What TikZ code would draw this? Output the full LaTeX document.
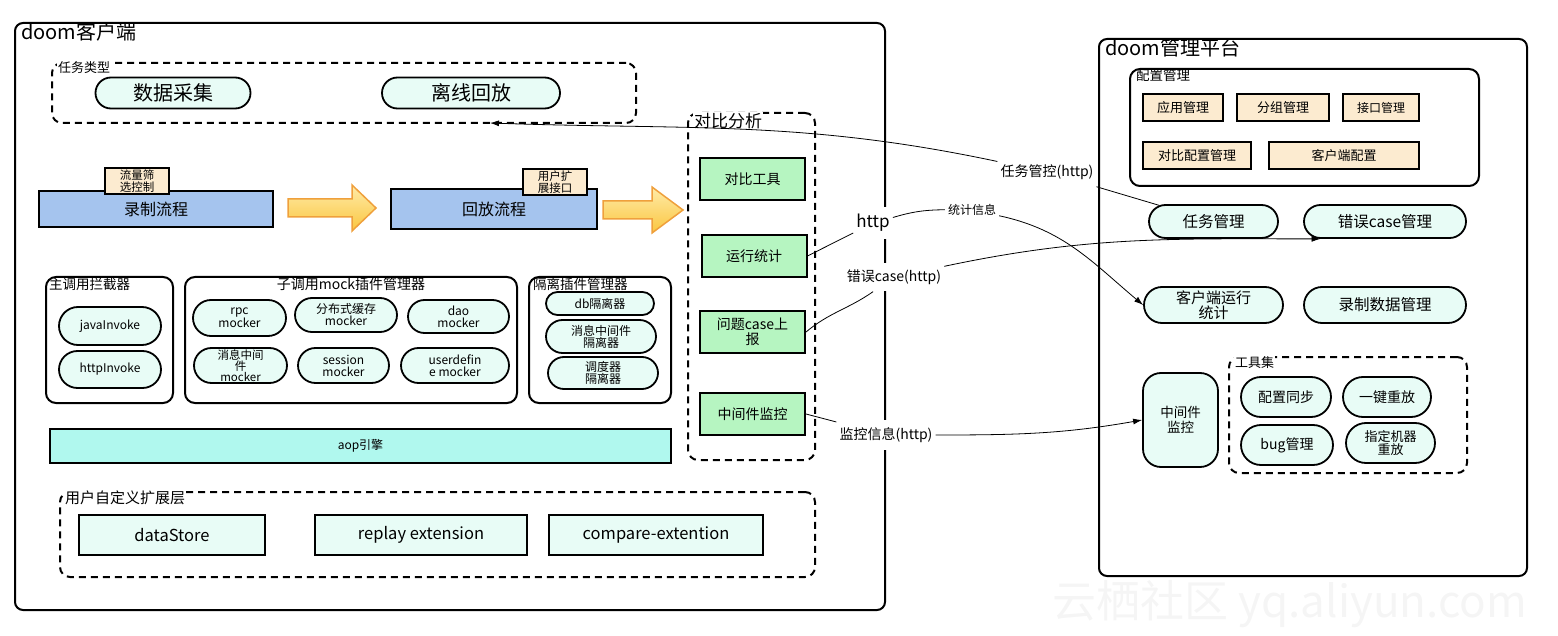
\documentclass[tikz,border=0pt]{standalone}
\usepackage{fontspec}
\setmainfont{Noto Sans CJK SC}
\usetikzlibrary{arrows.meta,shapes.misc}
\definecolor{mint}{HTML}{E8FCF6}
\definecolor{flowblue}{HTML}{A5C4EE}
\definecolor{peach}{HTML}{FCEBD0}
\definecolor{lgreen}{HTML}{B6F5C1}
\definecolor{aopcyan}{HTML}{B0F8EE}
\definecolor{arrtop}{HTML}{FFEBA8}
\definecolor{arrbot}{HTML}{FAC640}
\definecolor{arrorange}{HTML}{EFA03C}
\newcommand{\fs}[2]{\fontsize{#1}{#2}\selectfont}
\tikzset{
  panel/.style={draw, line width=2pt, rounded corners=8},
  dashbox/.style={draw, line width=2pt, dash pattern=on 7pt off 5pt, rounded corners=10},
  pill/.style={draw, line width=1.8pt, fill=mint, rounded rectangle, align=center, inner sep=1pt},
  flowbox/.style={draw, line width=2pt, fill=flowblue, font=\fs{16}{17}},
  tagbox/.style={draw, line width=1.8pt, fill=peach, align=center, inner sep=0pt,
    minimum width=64, minimum height=26, font=\fs{11.5}{11.5}},
  cmpbox/.style={draw, line width=2pt, fill=lgreen, minimum width=105, minimum height=42,
    align=center, font=\fs{14}{15}},
  extbox/.style={draw, line width=2pt, fill=mint, minimum height=40, font=\fs{16.5}{17}},
  cfgbox/.style={draw, line width=2pt, fill=peach, minimum height=27, font=\fs{13}{14}},
  boxtitle/.style={anchor=north west, inner sep=1pt},
  lbl/.style={fill=white, inner xsep=3pt, inner ysep=7pt, font=\fs{14}{15}},
  conn/.style={line width=0.8pt},
  arr/.style={conn, -{Latex[length=9pt,width=6pt]}},
  blockarrow/.style={draw=arrorange, line width=1.5pt, top color=arrtop, bottom color=arrbot},
}
\begin{document}
\begin{tikzpicture}[x=1pt,y=-1pt]
\useasboundingbox (0,0) rectangle (1558,636);

\node[text=gray!8, font=\fs{44}{46}] (wm) at (1290,604) {云栖社区 yq.aliyun.com};

\node[panel, minimum width=870, minimum height=587] (client) at (450,316.5) {};
\node[boxtitle, font=\fs{20}{22}] (clientt) at (20,21) {doom客户端};

\node[dashbox, minimum width=584, minimum height=60] (tasktype) at (344,93) {};
\node[boxtitle, fill=white, font=\fs{13}{14}] (tasktypet) at (57,60) {任务类型};
\node[pill, minimum width=157, minimum height=31, font=\fs{20}{22}] (caiji) at (173,93) {数据采集};
\node[pill, minimum width=180, minimum height=31, font=\fs{20}{22}] (huifang) at (471,93) {离线回放};

\node[flowbox, minimum width=234, minimum height=36] (luzhi) at (156,209) {录制流程};
\node[tagbox] (luzhitag) at (137,181) {流量筛\\选控制};
\node[flowbox, minimum width=206, minimum height=40] (huifangliu) at (494,209) {回放流程};
\node[tagbox] (huifangtag) at (555,182) {用户扩\\展接口};
\draw[blockarrow] (288,199) -- (352,199) -- (352,185) -- (376,208) -- (352,231) -- (352,217) -- (288,217) -- cycle;
\draw[blockarrow] (603,201) -- (652,201) -- (652,187) -- (683,210) -- (652,233) -- (652,219) -- (603,219) -- cycle;

\node[dashbox, minimum width=127, minimum height=347] (duibi) at (751.5,286.5) {};
\node[boxtitle, fill=white, font=\fs{17}{18}] (duibit) at (693,112) {对比分析};
\node[cmpbox] (gongju) at (752.5,179) {对比工具};
\node[cmpbox] (tongji) at (754,256) {运行统计};
\node[cmpbox] (shangbao) at (752.5,332) {问题case上\\报};
\node[cmpbox] (jiankong) at (752.5,414) {中间件监控};

\node[panel, rounded corners=10, minimum width=127, minimum height=126] (zhu) at (109.5,340) {};
\node[boxtitle, font=\fs{13.5}{14}] (zhut) at (48,277) {主调用拦截器};
\node[pill, minimum width=104, minimum height=38, font=\fs{12}{13}] (java) at (110,326) {javaInvoke};
\node[pill, minimum width=104, minimum height=37, font=\fs{12}{13}] (httpinv) at (110,369.5) {httpInvoke};

\node[panel, rounded corners=10, minimum width=332, minimum height=126] (zi) at (351,340) {};
\node[anchor=north, inner sep=1pt, font=\fs{14}{15}] (zit) at (zi.north) {子调用mock插件管理器};
\node[pill, minimum width=95, minimum height=36, font=\fs{12}{12}] (rpc) at (239.5,318) {rpc\\mocker};
\node[pill, minimum width=104, minimum height=34, font=\fs{12}{12}] (fenbu) at (346,315) {分布式缓存\\mocker};
\node[pill, minimum width=103, minimum height=33, font=\fs{12}{12}] (dao) at (458.5,316.5) {dao\\mocker};
\node[pill, minimum width=95, minimum height=35, font=\fs{11.5}{11}] (xiaoxi) at (240.5,365.5) {消息中间\\件\\mocker};
\node[pill, minimum width=93, minimum height=35, font=\fs{12}{12}] (session) at (343.5,365.5) {session\\mocker};
\node[pill, minimum width=110, minimum height=35, font=\fs{12}{12}] (userdef) at (455,365.5) {userdefin\\e mocker};

\node[panel, rounded corners=10, minimum width=142, minimum height=126] (geli) at (600,340) {};
\node[boxtitle, font=\fs{13.5}{14}] (gelit) at (532,277) {隔离插件管理器};
\node[pill, minimum width=110, minimum height=23, font=\fs{12}{12}] (dbgeli) at (600,303.5) {db隔离器};
\node[pill, minimum width=112, minimum height=33, font=\fs{12}{12}] (xiaoxigeli) at (601,336.5) {消息中间件\\隔离器};
\node[pill, minimum width=112, minimum height=32, font=\fs{12}{12}] (diaodu) at (603,373) {调度器\\隔离器};

\node[draw, line width=2pt, fill=aopcyan, minimum width=621, minimum height=34, font=\fs{12}{13}] (aop) at (360.5,446) {aop引擎};

\node[dashbox, minimum width=755, minimum height=85] (kuozhan) at (437.5,534.5) {};
\node[boxtitle, fill=white, font=\fs{15}{16}] (kuozhant) at (64,490) {用户自定义扩展层};
\node[extbox, minimum width=186] (datastore) at (172,535) {dataStore};
\node[extbox, minimum width=212] (replayext) at (421,535) {replay extension};
\node[extbox, minimum width=214] (compareext) at (656,535) {compare-extention};

\node[panel, minimum width=428, minimum height=537] (platform) at (1313,307.5) {};
\node[boxtitle, font=\fs{20}{22}] (platformt) at (1104,37) {doom管理平台};

\node[panel, rounded corners=10, minimum width=349, minimum height=117] (peizhi) at (1304.5,127.5) {};
\node[boxtitle, font=\fs{13.5}{14}] (peizhit) at (1135,68) {配置管理};
\node[cfgbox, minimum width=80] (yingyong) at (1183,107.5) {应用管理};
\node[cfgbox, minimum width=92] (fenzu) at (1283,107.5) {分组管理};
\node[cfgbox, minimum width=76, font=\fs{12}{13}] (jiekou) at (1381,107.5) {接口管理};
\node[cfgbox, minimum width=108] (duibipz) at (1197,155.5) {对比配置管理};
\node[cfgbox, minimum width=150] (khdpz) at (1344,155.5) {客户端配置};

\node[pill, minimum width=131, minimum height=33, font=\fs{15.5}{16}] (renwu) at (1213.5,221.5) {任务管理};
\node[pill, minimum width=164, minimum height=33, font=\fs{15.5}{16}] (cuowu) at (1385,221.5) {错误case管理};
\node[pill, minimum width=141, minimum height=36, font=\fs{15}{15}] (khdyx) at (1213.5,305) {客户端运行\\统计};
\node[pill, minimum width=164, minimum height=36, font=\fs{15.5}{16}] (luzhisj) at (1385,305) {录制数据管理};
\node[draw, line width=1.8pt, fill=mint, rounded corners=18, minimum width=75, minimum height=94,
  align=center, font=\fs{13.5}{15}] (zjjk) at (1180.5,420) {中间件\\监控};

\node[dashbox, minimum width=238, minimum height=116] (gongjuji) at (1348,415) {};
\node[boxtitle, fill=white, font=\fs{13}{14}] (gongjujit) at (1234,355) {工具集};
\node[pill, minimum width=92, minimum height=40, font=\fs{14}{15}] (tongbu) at (1286,397) {配置同步};
\node[pill, minimum width=90, minimum height=40, font=\fs{14}{15}] (chongfang) at (1387,397) {一键重放};
\node[pill, minimum width=94, minimum height=40, font=\fs{14}{15}] (bug) at (1287,445) {bug管理};
\node[pill, minimum width=91, minimum height=40, font=\fs{13}{13}] (jiqi) at (1390.5,443) {指定机器\\重放};

\node[lbl] (lrenwu) at (1047,172) {任务管控(http)};
\node[lbl, font=\fs{17}{18}] (lhttp) at (873,223) {http};
\node[lbl, inner ysep=3pt, font=\fs{12}{13}] (ltongji) at (972,210) {统计信息};
\node[lbl] (lcuowu) at (894,277) {错误case(http)};
\node[lbl] (ljiankong) at (886,435) {监控信息(http)};
\coordinate (tasktip) at (490,123);

\draw[conn] (renwu) -- (lrenwu);
\draw[arr] (lrenwu) to[out=168,in=-2] (tasktip);
\draw[conn] (tongji.east) -- (lhttp);
\draw[conn] (lhttp) to[bend left=8] (ltongji);
\draw[arr] (ltongji) to[out=-12,in=140] (khdyx.west);
\draw[conn] (shangbao.east) to[out=40,in=215] (lcuowu);
\draw[arr] (lcuowu) to[out=12,in=180] (cuowu.south west);
\draw[conn] (jiankong.east) -- (ljiankong);
\draw[arr] (ljiankong) to[out=0,in=190] (zjjk.west);
\end{tikzpicture}
\end{document}
